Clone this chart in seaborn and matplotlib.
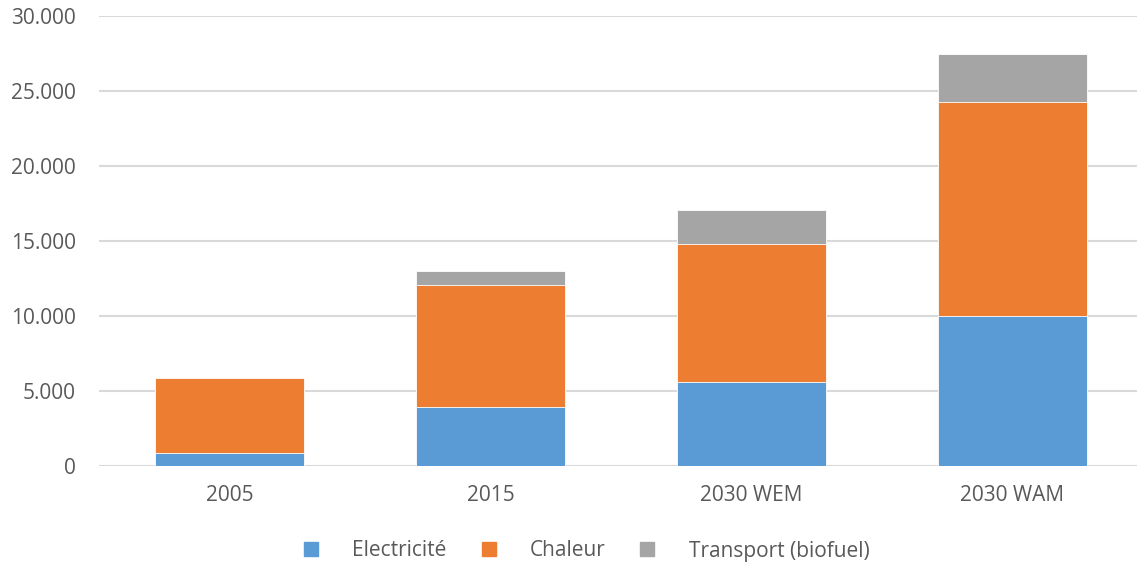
import numpy as np
import pandas as pd
import matplotlib
matplotlib.use("Agg")
import matplotlib.pyplot as plt
from matplotlib.ticker import FuncFormatter
from matplotlib.lines import Line2D
import seaborn as sns

# Données
categories = ["2005", "2015", "2030 WEM", "2030 WAM"]
electricite = [870, 3930, 5580, 10000]
chaleur = [5000, 8160, 9200, 14290]
transport = [0, 910, 2270, 3180]

series = ["Electricité", "Chaleur", "Transport (biofuel)"]
couleurs = ["#5B9BD5", "#ED7D31", "#A5A5A5"]

df = pd.DataFrame({"cat": categories,
                   "Electricité": electricite,
                   "Chaleur": chaleur,
                   "Transport (biofuel)": transport})
# Totaux cumulés pour empiler les barres
df["c1"] = df["Electricité"]
df["c2"] = df["c1"] + df["Chaleur"]
df["c3"] = df["c2"] + df["Transport (biofuel)"]

sns.set_style("white")
plt.rcParams["font.family"] = ["Open Sans", "DejaVu Sans"]

fig = plt.figure(figsize=(11.37, 5.67), dpi=100)
ax = fig.add_axes([99 / 1137, 101 / 567, 1038 / 1137, 450 / 567])

# On dessine du haut vers le bas
for col, c in zip(["c3", "c2", "c1"], couleurs[::-1]):
    sns.barplot(data=df, x="cat", y=col, color=c, width=0.57,
                edgecolor="white", linewidth=0.6, saturation=1, ax=ax, zorder=3)

ax.set_ylim(0, 30000)
ax.set_xlim(-0.5, 3.5 - 6 / 261)
ax.set_yticks(np.arange(0, 30001, 5000))
ax.yaxis.set_major_formatter(FuncFormatter(lambda v, p: f"{int(v):,}".replace(",", ".")))
ax.grid(axis="y", color="#D9D9D9", linewidth=1.5, zorder=0)
ax.set_axisbelow(True)
for s in ax.spines.values():
    s.set_visible(False)
ax.set_xlabel("")
ax.set_ylabel("")
ax.tick_params(axis="both", length=0, labelsize=15, colors="#595959")
ax.tick_params(axis="y", pad=16.5)
ax.tick_params(axis="x", pad=14)

handles = [Line2D([], [], marker="s", linestyle="", markersize=10,
                  markerfacecolor=c, markeredgecolor=c) for c in couleurs]
fig.legend(handles, series, loc="center", bbox_to_anchor=(585 / 1137, 1 - 551 / 567),
           ncol=3, frameon=False, fontsize=15, labelcolor="#595959",
           handlelength=1.0, handletextpad=1.47, columnspacing=1.52)

fig.savefig("out.png", dpi=100)
